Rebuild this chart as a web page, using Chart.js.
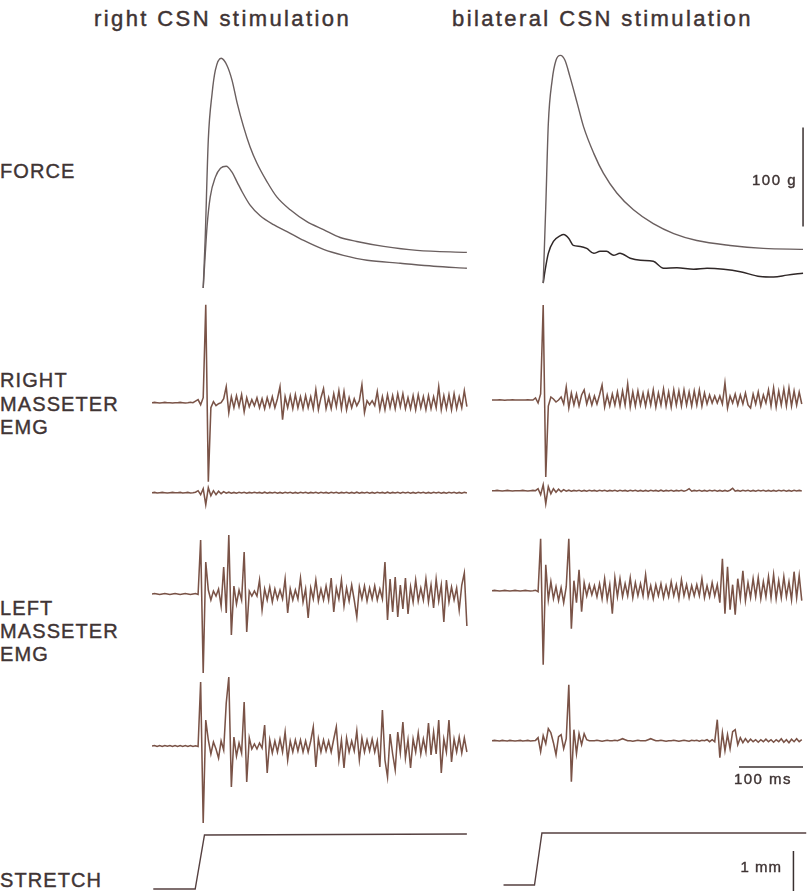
<!DOCTYPE html>
<html>
<head>
<meta charset="utf-8">
<title>CSN stimulation – force, masseter EMG and stretch</title>
<script src="https://cdn.jsdelivr.net/npm/chart.js@4/dist/chart.umd.min.js"></script>
<style>
  html, body { margin: 0; padding: 0; background: #ffffff; }
  body {
    width: 808px; height: 891px; position: relative; overflow: hidden;
    font-family: "Liberation Sans", Arial, sans-serif; color: #3f3434;
  }
  .panel { position: absolute; }
  .title { position: absolute; top: 8px; font-size: 22px; letter-spacing: 2.4px; line-height: 1; white-space: nowrap; -webkit-text-stroke: 0.45px #3f3434; }
  .label { position: absolute; left: 0; font-size: 20px; letter-spacing: 1.1px; line-height: 1; white-space: nowrap; -webkit-text-stroke: 0.4px #3f3434; }
</style>
</head>
<body>
<div class="title" style="left:94px">right CSN stimulation</div>
<div class="title" style="left:452px">bilateral CSN stimulation</div>

<div class="label" style="top:161px">FORCE</div>
<div class="label" style="top:370px">RIGHT</div>
<div class="label" style="top:394px">MASSETER</div>
<div class="label" style="top:417px">EMG</div>
<div class="label" style="top:598px">LEFT</div>
<div class="label" style="top:621px">MASSETER</div>
<div class="label" style="top:644px">EMG</div>
<div class="label" style="top:870px">STRETCH</div>

<script>
// ---------------------------------------------------------------------------
// Recorded traces.  Time is in ms relative to the CSN stimulus.
// Force traces: [ms, g].  Stretch: [ms, mm].
// EMG traces: amplitudes (arbitrary units) sampled every DT ms from T0.
// ---------------------------------------------------------------------------
const T0 = -80;
const DT = 4;

// FORCE – right CSN stimulation (two superimposed sweeps)
const forceRightStimA = [[0,0],[3,48],[8,150],[14,197],[19,220],[28,232],[37,225],[45,210],[53,187],[63,163],[73,143],[84,126],[100,107],[115,92],[136,79],[162,67],[188,59],[214,51],[240,47],[282,42],[334,38],[412,36]];
const forceRightStimB = [[0,0],[3,32],[6,62],[11,92],[19,112],[27,121],[36,123],[45,117],[53,107],[61,97],[73,84],[89,73],[110,64],[131,57],[157,48],[188,39],[219,33],[256,28],[308,25],[360,22],[412,20]];
// FORCE – bilateral CSN stimulation
const forceBilatA = [[0,5],[4,82],[8,166],[14,210],[20,230],[27,235],[34,230],[42,213],[53,187],[63,163],[79,136],[94,116],[115,96],[141,79],[172,65],[204,55],[240,48],[292,43],[344,40],[406,39]];
const forceBilatB = [[0,5],[3,18],[8,35],[16,47],[27,53],[32,54],[40,50],[47,43],[58,42],[68,40],[79,35],[89,37],[99,37],[110,33],[120,35],[136,30],[152,28],[172,27],[188,20],[209,20.5],[235,19],[256,20],[282,19],[308,16.5],[339,11.5],[360,11],[381,13],[406,15]];

// RIGHT MASSETER EMG – right CSN stimulation
const rmRightStimHi = [
  0,0.3,0,-0.3,0,0.3,0,0,-0.3,0,
  0,0.3,0,-0.3,0,0.5,0,1.5,3,-2,
  5,98,-79,-5,1,-3,-1,0,4,16,
  -10,6,-5,7,-4,8,-9,5,-4,3,
  -3,5,-5,4,-6,5,-4,6,-5,4,
  16,-17,6,-5,7,-6,8,-5,6,-6,
  7,-5,6,-6,13,-7,5,14,-6,5,
  -6,9,-4,12,-6,11,-7,5,-5,4,
  -3,2,18,-10,2,-2,2,-3,11,-7,
  6,-7,8,-5,7,-6,9,-4,9,-6,
  5,-6,7,-7,8,-5,6,-7,7,-6,
  6,-5,16,-7,7,-6,8,-7,9,-6,
  6,-5,12,-4
];
const rmRightStimLo = [
  0,0.3,-0.3,0,0.3,0,-0.3,0,0.3,0,
  0,0.3,-0.3,0,0.3,-0.3,0,0.5,2,-2,
  4,-12,5,-3,2,-2,1.5,-1,1,-0.5,
  0.5,-0.5,0.3,-0.5,0.5,-0.3,0.5,-0.5,0.3,-0.3,
  0.5,-0.3,0.3,-0.5,0.5,-0.5,0.3,-0.3,0.5,-0.5,
  0.3,-0.5,0.5,-0.3,0.5,-0.5,0.3,-0.5,0.5,-0.3,
  0.5,-0.5,0.3,-0.3,0.5,-0.5,0.5,-0.3,0.3,-0.5,
  0.5,-0.3,0.5,-0.5,0.3,-0.3,0.5,-0.5,0.3,-0.5,
  0.5,-0.5,0.3,-0.3,0.5,-0.5,0.3,-0.5,0.5,-0.3,
  0.3,-0.5,0.5,-0.5,0.3,-0.3,0.5,-0.5,0.5,-0.3,
  0.5,-0.5,0.3,-0.5,0.5,-0.3,0.5,-0.5,0.3,-0.5,
  0.5,-0.3,0.5,-0.5,0.3,-0.5,0.5,-0.3,0.5,-0.5,
  0.3,-0.5,0.5,-0.3
];
// RIGHT MASSETER EMG – bilateral CSN stimulation
const rmBilatHi = [
  0,0,0,0.3,0,-0.3,0,0,0.3,0,
  0,0,0,0,0.3,0,0,2,-3,6,
  95,-77,-6,3,1,-2,0,3,-4,13,
  -8,7,-5,6,-6,5,10,-4,5,-5,
  4,-4,5,15,-7,5,-6,6,-5,8,
  -6,9,-5,16,-7,8,-6,9,-5,7,
  -6,8,-5,10,-7,7,-5,11,-6,8,
  -7,10,-5,9,-6,10,-5,8,-6,9,
  -5,10,-6,7,-4,5,-3,4,-3,4,
  -4,17,-8,4,-3,6,-5,5,-4,7,
  -5,-8,6,-4,8,-6,5,-3,10,-6,
  12,-7,9,-5,11,-6,12,-6,9,-5,
  8,-4
];
const rmBilatLo = [
  0,0,0.3,0,-0.3,0,0.3,0,-0.3,0,
  0,0,0.3,0,-0.3,0,0.3,0,2,-4,
  6,-13,4,-3,2,-1.5,1.5,-1,1,-0.5,
  0.5,-0.5,0.3,-0.3,0.5,-0.5,0.3,-0.5,0.5,-0.3,
  0.3,-0.5,0.5,-0.3,0.5,-0.5,0.3,-0.3,0.5,-0.5,
  0.5,-0.3,0.3,-0.5,0.5,-0.3,0.5,-0.5,0.3,-0.5,
  0.3,-0.5,0.5,-0.3,0.3,-0.5,0.5,-0.5,0.3,-0.3,
  0.5,-0.5,0.3,-0.3,0.5,-0.5,0.3,2,-0.5,0.3,
  -0.3,0.5,-0.5,0.3,-0.5,0.5,-0.3,0.5,-0.5,0.3,
  -0.5,0.3,-0.5,0.5,2.5,-0.5,0.3,-0.5,0.5,-0.3,
  0.5,-0.5,0.3,-0.5,0.5,-0.3,0.5,-0.5,0.3,-0.5,
  0.3,-0.5,0.5,-0.3,0.5,-0.5,0.3,-0.5,0.5,-0.3,
  0.3,-0.3
];

// LEFT MASSETER EMG – right CSN stimulation
const lmRightStimHi = [
  0,0.5,0,-0.5,0,0.5,0,-0.5,0,0.5,
  0,-0.5,0,0.5,0,-0.5,0,0.5,-0.5,54,
  -79,32,4,-6,3,-2,5,-12,27,-19,
  59,-41,8,-10,4,-6,42,-38,3,-2,
  3,-2,14,-16,5,-6,7,-8,5,-5,
  4,-5,15,-19,5,-6,4,-5,16,-8,
  5,-24,6,-5,14,-7,5,-6,8,-6,
  16,-18,6,-5,14,-12,6,-7,9,-6,
  -23,7,-5,8,-7,6,-5,8,-6,5,
  -5,32,-26,15,-18,17,-23,9,-15,16,
  -20,7,-8,14,-7,6,-6,15,-8,9,
  -14,15,-7,9,-28,14,-8,7,-6,6,
  -16,9,21,-32
];
const lmRightStimLo = [
  0,0.5,-0.5,0.5,-0.5,0.5,-0.3,0.5,-0.5,0.5,
  -0.5,0.5,-0.5,0.5,-0.5,0.5,-0.5,0.3,-0.5,64,
  -77,26,6,-8,4,-3,-12,5,-4,43,
  69,-41,9,-10,3,-7,44,-36,8,-3,
  2,-3,3,-2,21,-27,6,-7,5,-6,
  7,-6,14,-14,5,-6,6,-5,6,-6,
  5,-6,5,19,-21,7,-6,6,-5,5,
  -6,7,19,-14,6,-22,8,-6,5,-5,
  15,-14,8,-6,6,-5,7,-6,5,-21,
  36,-14,-31,12,-8,-24,14,-7,24,-12,
  6,-22,7,-6,13,-8,7,-6,23,-9,
  14,-8,26,-27,7,-6,26,-16,7,-6,
  9,-7,8,-6
];
// LEFT MASSETER EMG – bilateral CSN stimulation
const lmBilatHi = [
  0,0.3,0,-0.3,0,0.3,0,-0.3,0,0.3,
  0,-0.3,0,0.3,0,-0.3,0,0.5,-1,52,
  -74,26,-9,9,-8,4,-10,3,-12,4,
  52,-38,10,-12,21,-21,8,-5,6,-4,
  5,-6,7,-8,12,-9,6,-23,13,-6,
  12,-6,7,-5,13,-7,8,-5,7,-5,
  16,-6,5,-8,6,-5,7,-7,5,-6,
  9,-5,6,-8,11,-5,6,-7,5,-5,
  6,-5,12,-7,5,-6,8,-5,6,-12,
  32,-23,24,-19,6,-24,12,-8,20,-10,
  8,-7,12,-6,13,-8,9,-6,14,-7,
  16,-8,10,-7,14,-6,9,-9,19,-7,
  15,-10
];
const lmBilatLo = [
  0,0.3,0,-0.3,0.3,0,-0.3,0.3,0,-0.3,
  0,0.3,-0.3,0,0.3,-0.3,0,0.3,3,-11,
  5,-3,12,8,-2,-14,4,6,-8,2,
  56,-41,11,-13,7,-4,7,1,0,0,
  0,0.5,0,-0.5,0,0.5,0,0,0.5,0,
  1,2,1,0,0,-0.5,0,0.5,0,0,
  0,1,2,1,0,0,0.5,0,-0.5,0,
  0,0.5,0,-0.5,0,0.5,0,-0.5,0.5,0,
  0.5,-0.5,0.5,0,1,-1,1,-1,21,-17,
  8,-10,6,-8,9,11,-4,3,-2,2,
  -1.5,1.5,-1,1,-1.5,1,-1,1.5,-1,1,
  -1.5,1,-1,2,-1.5,1,-2,1.5,-1,2,
  -1,1
];

// STRETCH (jaw-opening ramp)
const stretchRightStim = [[-78,0],[-12.5,0],[2,1.35],[412,1.375]];
const stretchBilat = [[-62,0.1],[-13.6,0.1],[-2,1.4],[411,1.4]];

// Calibration bars
const forceCalBar = [[406,62],[406,162]];      // 100 g
const timeCalBar = [[306,-26.3],[406,-26.3]];  // 100 ms
const stretchCalBar = [[391,-0.05],[391,0.95]]; // 1 mm

// ---------------------------------------------------------------------------
// Layout
// ---------------------------------------------------------------------------
const X_MIN = -80, X_MAX = 420, PX_PER_MS = 0.64;
const COLUMN_LEFT = [152, 492];
const BANDS = {
  force:   { top: 40,  bottom: 300, zero: [288, 288],     pxPerUnit: 0.99 },
  remgHi:  { top: 295, bottom: 495, zero: [402.7, 400],   pxPerUnit: 1 },
  remgLo:  { top: 470, bottom: 515, zero: [492.7, 490.7], pxPerUnit: 1 },
  lemgHi:  { top: 525, bottom: 685, zero: [594, 590.7],   pxPerUnit: 1 },
  lemgLo:  { top: 665, bottom: 830, zero: [746, 740.7],   pxPerUnit: 1 },
  stretch: { top: 815, bottom: 891, zero: [889, 889],     pxPerUnit: 40 }
};

const FORCE_COLOR = '#6a5f5f';
const FORCE_DARK = '#2f2727';
const EMG_COLOR = '#7a5347';
const STRETCH_COLOR = '#554040';
const TEXT_COLOR = '#3f3434';
const EMG_WIDTH = 1.55;

const gridPoints = vals => vals.map((v, i) => ({ x: T0 + i * DT, y: v }));
const pairPoints = arr => arr.map(([x, y]) => ({ x, y }));

function line(points, color, width, smooth) {
  return {
    data: points,
    borderColor: color,
    borderWidth: width,
    pointRadius: 0,
    fill: false,
    clip: false,
    tension: 0,
    borderJoinStyle: 'miter',
    cubicInterpolationMode: smooth ? 'monotone' : 'default'
  };
}

// Draws calibration labels in data coordinates of the panel
function notesPlugin(notes) {
  return {
    id: 'notes',
    afterDatasetsDraw(chart) {
      const { ctx, scales: { x, y } } = chart;
      ctx.save();
      notes.forEach(n => {
        ctx.font = n.font;
        ctx.fillStyle = TEXT_COLOR;
        ctx.strokeStyle = TEXT_COLOR;
        ctx.lineWidth = 0.4;
        ctx.textAlign = n.align;
        ctx.textBaseline = 'middle';
        if ('letterSpacing' in ctx) ctx.letterSpacing = n.spacing || '0px';
        const px = x.getPixelForValue(n.t), py = y.getPixelForValue(n.v);
        ctx.fillText(n.text, px, py);
        ctx.strokeText(n.text, px, py);
      });
      ctx.restore();
    }
  };
}

function panel(bandName, col, datasets, notes) {
  const band = BANDS[bandName];
  const zero = band.zero[col];
  const yMax = (zero - band.top) / band.pxPerUnit;
  const yMin = (zero - band.bottom) / band.pxPerUnit;
  const div = document.createElement('div');
  div.className = 'panel';
  div.style.left = COLUMN_LEFT[col] + 'px';
  div.style.top = band.top + 'px';
  div.style.width = ((X_MAX - X_MIN) * PX_PER_MS) + 'px';
  div.style.height = (band.bottom - band.top) + 'px';
  const canvas = document.createElement('canvas');
  div.appendChild(canvas);
  document.body.appendChild(div);
  new Chart(canvas, {
    type: 'line',
    data: { datasets },
    options: {
      responsive: true,
      maintainAspectRatio: false,
      animation: false,
      devicePixelRatio: 1,
      events: [],
      layout: { padding: 0 },
      plugins: { legend: { display: false }, tooltip: { enabled: false } },
      scales: {
        x: { type: 'linear', min: X_MIN, max: X_MAX, display: false },
        y: { type: 'linear', min: yMin, max: yMax, display: false }
      }
    },
    plugins: [notesPlugin(notes || [])]
  });
}

const NOTE_FONT = '15px "Liberation Sans", Arial, sans-serif';

// FORCE
panel('force', 0, [
  line(pairPoints(forceRightStimA), FORCE_COLOR, 1.4, true),
  line(pairPoints(forceRightStimB), FORCE_COLOR, 1.4, true)
]);
panel('force', 1, [
  line(pairPoints(forceBilatA), FORCE_COLOR, 1.4, true),
  line(pairPoints(forceBilatB), FORCE_DARK, 1.5, true),
  line(pairPoints(forceCalBar), '#3a3030', 1.5, false)
], [{ text: '100 g', t: 396.6, v: 108.4, align: 'right', font: NOTE_FONT, spacing: '1.5px' }]);

// RIGHT MASSETER EMG
panel('remgHi', 0, [line(gridPoints(rmRightStimHi), EMG_COLOR, EMG_WIDTH, false)]);
panel('remgLo', 0, [line(gridPoints(rmRightStimLo), EMG_COLOR, EMG_WIDTH, false)]);
panel('remgHi', 1, [line(gridPoints(rmBilatHi), EMG_COLOR, EMG_WIDTH, false)]);
panel('remgLo', 1, [line(gridPoints(rmBilatLo), EMG_COLOR, EMG_WIDTH, false)]);

// LEFT MASSETER EMG
panel('lemgHi', 0, [line(gridPoints(lmRightStimHi), EMG_COLOR, EMG_WIDTH, false)]);
panel('lemgLo', 0, [line(gridPoints(lmRightStimLo), EMG_COLOR, EMG_WIDTH, false)]);
panel('lemgHi', 1, [line(gridPoints(lmBilatHi), EMG_COLOR, EMG_WIDTH, false)]);
panel('lemgLo', 1, [
  line(gridPoints(lmBilatLo), EMG_COLOR, EMG_WIDTH, false),
  line(pairPoints(timeCalBar), '#3a3030', 1.5, false)
], [{ text: '100 ms', t: 343.4, v: -39.5, align: 'center', font: NOTE_FONT, spacing: '1.5px' }]);

// STRETCH
panel('stretch', 0, [line(pairPoints(stretchRightStim), STRETCH_COLOR, 1.4, false)]);
panel('stretch', 1, [
  line(pairPoints(stretchBilat), STRETCH_COLOR, 1.4, false),
  line(pairPoints(stretchCalBar), '#3a3030', 1.5, false)
], [{ text: '1 mm', t: 373, v: 0.52, align: 'right', font: NOTE_FONT, spacing: '1px' }]);
</script>
</body>
</html>
